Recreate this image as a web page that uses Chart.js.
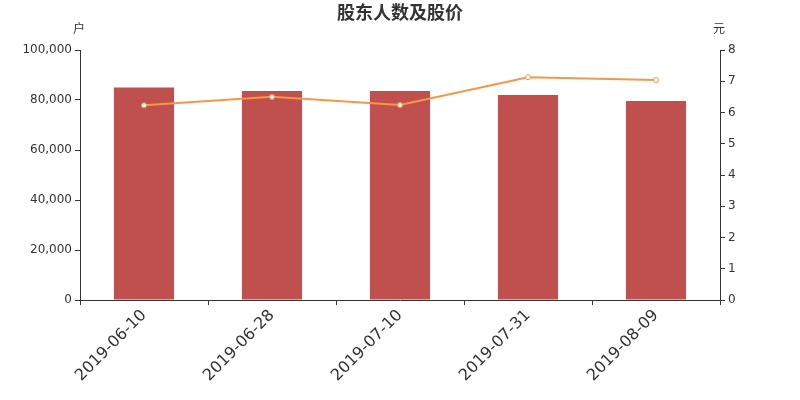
<!doctype html>
<html>
<head>
<meta charset="utf-8">
<title>股东人数及股价</title>
<script src="https://cdn.jsdelivr.net/npm/chart.js@4/dist/chart.umd.min.js"></script>
<style>
  html, body { margin: 0; padding: 0; background: #fff; }
  #box { width: 800px; height: 400px; }
</style>
</head>
<body>
<div id="box"><canvas id="myChart" width="800" height="400"></canvas></div>
<script>
  const dates = ['2019-06-10', '2019-06-28', '2019-07-10', '2019-07-31', '2019-08-09'];
  const holders = [85050, 83600, 83600, 82000, 79600];
  const prices = [6.23, 6.50, 6.24, 7.13, 7.04];
  const holderTicks = [0, 20000, 40000, 60000, 80000, 100000];
  const priceTicks = [0, 1, 2, 3, 4, 5, 6, 7, 8];

  const axisColor = '#333';
  const textColor = '#333';
  const tickFont = { family: 'DejaVu Sans', size: 12 };

  // unit labels above both y axes
  const unitLabels = {
    id: 'unitLabels',
    afterDraw(chart) {
      const c = chart.ctx;
      c.save();
      c.fillStyle = textColor;
      c.font = '12px "Noto Sans CJK SC"';
      c.textAlign = 'center';
      c.textBaseline = 'middle';
      c.fillText('户', chart.scales.y.right - 1, 28);
      c.fillText('元', chart.scales.y1.left - 1, 28);
      c.restore();
    }
  };

  const ctx = document.getElementById('myChart').getContext('2d');
  new Chart(ctx, {
    data: {
      labels: dates,
      datasets: [
        {
          type: 'line',
          label: '股价',
          data: prices,
          yAxisID: 'y1',
          borderColor: '#f79646',
          borderWidth: 2,
          pointRadius: 2.5,
          pointBorderWidth: 1,
          pointBackgroundColor: '#fff',
          pointBorderColor: '#f79646',
          tension: 0,
          order: 0
        },
        {
          type: 'bar',
          label: '股东人数',
          data: holders,
          yAxisID: 'y',
          backgroundColor: '#c0504d',
          barPercentage: 0.47,
          categoryPercentage: 1,
          order: 1
        }
      ]
    },
    options: {
      responsive: false,
      animation: false,
      layout: { padding: { left: 0, right: 0, top: 0, bottom: 0 } },
      plugins: {
        legend: { display: false },
        tooltip: { enabled: false },
        title: {
          display: true,
          text: '股东人数及股价',
          color: textColor,
          font: { family: 'Noto Sans CJK SC', size: 18, weight: 'bold', lineHeight: 1.2 },
          padding: { top: 1, bottom: 27.4 }
        }
      },
      scales: {
        x: {
          offset: true,
          border: { color: axisColor, width: 1 },
          grid: { offset: true, drawOnChartArea: false, drawTicks: true, tickLength: 5, color: axisColor },
          ticks: {
            color: textColor,
            font: { family: 'DejaVu Sans', size: 16 },
            minRotation: 45,
            maxRotation: 45,
            padding: 1
          },
          afterFit(scale) { scale.height = 100; }
        },
        y: {
          position: 'left',
          min: 0,
          max: 100000,
          border: { color: axisColor, width: 1 },
          grid: { drawOnChartArea: false, drawTicks: true, tickLength: 5, color: axisColor },
          afterBuildTicks(scale) { scale.ticks = holderTicks.map(v => ({ value: v })); },
          ticks: {
            color: textColor,
            font: tickFont,
            padding: 3,
            callback: (value) => value.toLocaleString('en-US')
          },
          afterFit(scale) { scale.width = 80; }
        },
        y1: {
          position: 'right',
          min: 0,
          max: 8,
          border: { color: axisColor, width: 1 },
          grid: { drawOnChartArea: false, drawTicks: true, tickLength: 5, color: axisColor },
          afterBuildTicks(scale) { scale.ticks = priceTicks.map(v => ({ value: v })); },
          ticks: { color: textColor, font: tickFont, padding: 3 },
          afterFit(scale) { scale.width = 80; }
        }
      }
    },
    plugins: [unitLabels]
  });
</script>
</body>
</html>
